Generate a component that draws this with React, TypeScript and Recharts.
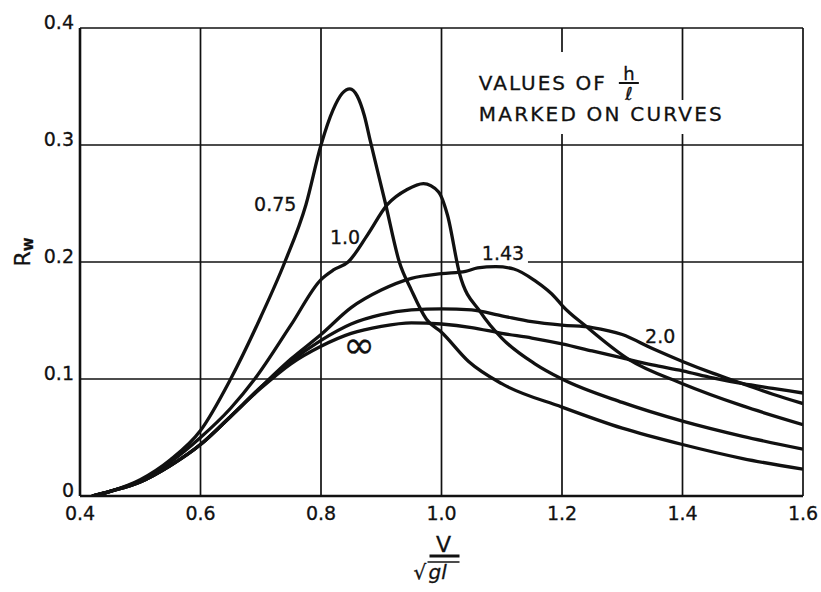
import { LineChart, Line, XAxis, YAxis, CartesianGrid, ReferenceDot } from 'recharts';

const FONT = '"DejaVu Sans", sans-serif';

const xTicks = [0.4, 0.6, 0.8, 1.0, 1.2, 1.4, 1.6];
const yTicks = [0, 0.1, 0.2, 0.3, 0.4];

// h/l = 0.75
const v075 = [0.42, 0.45, 0.5, 0.55, 0.6, 0.65, 0.7, 0.74, 0.775, 0.8, 0.82, 0.835, 0.848, 0.86, 0.872, 0.882, 0.907, 0.93, 0.95, 0.975, 1.0, 1.045, 1.1, 1.2, 1.3, 1.4, 1.5, 1.6];
const rw075 = [0, 0.004, 0.014, 0.031, 0.056, 0.1, 0.153, 0.2, 0.249, 0.3, 0.33, 0.344, 0.348, 0.342, 0.325, 0.303, 0.25, 0.2, 0.176, 0.151, 0.14, 0.115, 0.096, 0.076, 0.058, 0.044, 0.032, 0.023];

// h/l = 1.0
const v100 = [0.42, 0.45, 0.5, 0.55, 0.6, 0.65, 0.69, 0.75, 0.8, 0.82, 0.845, 0.877, 0.91, 0.943, 0.97, 0.995, 1.01, 1.03, 1.065, 1.1, 1.155, 1.2, 1.3, 1.4, 1.5, 1.6];
const rw100 = [0, 0.004, 0.013, 0.029, 0.05, 0.075, 0.1, 0.146, 0.185, 0.193, 0.2, 0.223, 0.249, 0.262, 0.267, 0.26, 0.24, 0.19, 0.157, 0.135, 0.113, 0.1, 0.08, 0.064, 0.051, 0.04];

// h/l = 1.43
const v143 = [0.42, 0.45, 0.5, 0.55, 0.6, 0.65, 0.7, 0.75, 0.8, 0.85, 0.9, 0.95, 1.0, 1.04, 1.06, 1.09, 1.12, 1.155, 1.19, 1.2, 1.24, 1.31, 1.4, 1.5, 1.6];
const rw143 = [0, 0.004, 0.012, 0.026, 0.044, 0.068, 0.093, 0.117, 0.138, 0.161, 0.176, 0.186, 0.19, 0.192, 0.195, 0.196, 0.194, 0.184, 0.169, 0.163, 0.145, 0.117, 0.096, 0.077, 0.061];

// h/l = 2.0 and infinite depth share the same speed stations
const vDeep = [0.42, 0.45, 0.5, 0.55, 0.6, 0.65, 0.7, 0.75, 0.8, 0.85, 0.9, 0.95, 1.0, 1.05, 1.1, 1.15, 1.2, 1.25, 1.3, 1.35, 1.4, 1.45, 1.5, 1.55, 1.6];
const rw200 = [0, 0.004, 0.012, 0.026, 0.044, 0.068, 0.093, 0.115, 0.133, 0.147, 0.155, 0.159, 0.16, 0.159, 0.154, 0.149, 0.146, 0.144, 0.138, 0.126, 0.115, 0.105, 0.096, 0.087, 0.079];
const rwInf = [0, 0.004, 0.012, 0.026, 0.044, 0.068, 0.092, 0.113, 0.128, 0.139, 0.145, 0.148, 0.147, 0.144, 0.139, 0.135, 0.13, 0.124, 0.118, 0.112, 0.107, 0.101, 0.096, 0.092, 0.088];

// curve tags, placed in data units
const tagText = ['0.75', '1.0', '1.43', '2.0', '∞'];
const tagV = [0.724, 0.84, 1.102, 1.363, 0.863];
const tagRw = [0.25, 0.221, 0.208, 0.137, 0.129];

const toPoints = (vs: number[], rws: number[]) => vs.map((v, i) => ({ v, rw: rws[i] }));

const curves = [
  { key: '0.75', data: toPoints(v075, rw075) },
  { key: '1.0', data: toPoints(v100, rw100) },
  { key: '1.43', data: toPoints(v143, rw143) },
  { key: '2.0', data: toPoints(vDeep, rw200) },
  { key: 'inf', data: toPoints(vDeep, rwInf) },
];

const fmt = (n: number) => (n === 0 ? '0' : n.toFixed(1));

const XTick = ({ x, y, payload }: any) => (
  <text x={x} y={y + 24} textAnchor="middle" fontFamily={FONT} fontSize={19} fill="#111" stroke="#111" strokeWidth={0.3}>
    {fmt(payload.value)}
  </text>
);

const YTick = ({ x, y, payload }: any) => (
  <text x={x} y={y + 1} textAnchor="end" fontFamily={FONT} fontSize={19} fill="#111" stroke="#111" strokeWidth={0.3}>
    {fmt(payload.value)}
  </text>
);

const CurveTag = (text: string) => (p: any) => {
  const big = text === '∞';
  return (
    <g>
      {text === '1.43' && <rect x={p.cx - 33} y={p.cy - 10} width={58} height={21} fill="#fff" />}
      <text
        x={p.cx}
        y={p.cy}
        textAnchor="middle"
        dominantBaseline="central"
        fontFamily={FONT}
        fontSize={big ? 38 : 19}
        fill="#111"
        stroke="#111"
        strokeWidth={0.3}
      >
        {text}
      </text>
    </g>
  );
};

const Note = (p: any) => {
  const x = p.cx;
  const y = p.cy;
  return (
    <g fontFamily={FONT} fontSize={20} fill="#111" stroke="#111" strokeWidth={0.3}>
      <rect x={x - 6} y={y - 38} width={174} height={50} fill="#fff" stroke="none" />
      <rect x={x - 6} y={y + 10} width={254} height={34} fill="#fff" stroke="none" />
      <text x={x} y={y} letterSpacing={2}>VALUES OF</text>
      <text x={x + 150} y={y - 10} textAnchor="middle" fontSize={18}>h</text>
      <line x1={x + 140} x2={x + 160} y1={y - 7} y2={y - 7} stroke="#111" strokeWidth={2} />
      <text x={x + 150} y={y + 10} textAnchor="middle" fontSize={18} fontStyle="italic">ℓ</text>
      <text x={x} y={y + 31} letterSpacing={2.2}>MARKED ON CURVES</text>
    </g>
  );
};

const XTitle = ({ viewBox }: any) => {
  const cx = viewBox.x + viewBox.width / 2;
  const top = viewBox.y;
  return (
    <g fontFamily={FONT} fill="#111" stroke="#111" strokeWidth={0.3}>
      <text x={cx + 2} y={top + 56} textAnchor="middle" fontSize={22}>V</text>
      <line x1={cx - 12} x2={cx + 18} y1={top + 60} y2={top + 60} stroke="#111" strokeWidth={3} />
      <text x={cx - 28} y={top + 83} fontSize={20}>√</text>
      <line x1={cx - 14} x2={cx + 18} y1={top + 66} y2={top + 66} stroke="#111" strokeWidth={1.5} />
      <text x={cx - 13} y={top + 83} fontSize={20} fontStyle="italic">gl</text>
    </g>
  );
};

const YTitle = ({ viewBox }: any) => {
  const cx = 22;
  const cy = viewBox.y + viewBox.height / 2 - 10;
  return (
    <text
      x={cx}
      y={cy}
      transform={`rotate(-90 ${cx} ${cy})`}
      textAnchor="middle"
      dominantBaseline="central"
      fontFamily={FONT}
      fontSize={22}
      fill="#111"
      stroke="#111"
      strokeWidth={0.3}
    >
      R<tspan fontSize={15} fontWeight="bold" dy={6}>w</tspan>
    </text>
  );
};

export default function App() {
  return (
    <div style={{ position: 'absolute', left: 0, top: 0, width: 821, height: 592, background: '#fff' }}>
      <LineChart width={821} height={592} margin={{ top: 28, right: 18, left: 8, bottom: 8 }}>
        <CartesianGrid stroke="#111" strokeWidth={1.7} horizontalValues={yTicks} verticalValues={xTicks} />
        <XAxis
          type="number"
          dataKey="v"
          domain={[0.4, 1.6]}
          ticks={xTicks}
          allowDataOverflow
          height={88}
          tickSize={0}
          tickMargin={0}
          tick={<XTick />}
          axisLine={{ stroke: '#111', strokeWidth: 2.6 }}
          label={{ content: <XTitle /> }}
        />
        <YAxis
          type="number"
          dataKey="rw"
          domain={[0, 0.4]}
          ticks={yTicks}
          allowDataOverflow
          width={72}
          tickSize={0}
          tickMargin={6}
          tick={<YTick />}
          axisLine={{ stroke: '#111', strokeWidth: 2.6 }}
          label={{ content: <YTitle /> }}
        />
        {curves.map((c) => (
          <Line
            key={c.key}
            data={c.data}
            dataKey="rw"
            type="monotone"
            stroke="#111"
            strokeWidth={3.3}
            dot={false}
            activeDot={false}
            isAnimationActive={false}
          />
        ))}
        {tagText.map((t, i) => (
          <ReferenceDot key={t} x={tagV[i]} y={tagRw[i]} r={0} shape={CurveTag(t)} />
        ))}
        <ReferenceDot x={1.062} y={0.347} r={0} shape={Note} />
      </LineChart>
    </div>
  );
}
